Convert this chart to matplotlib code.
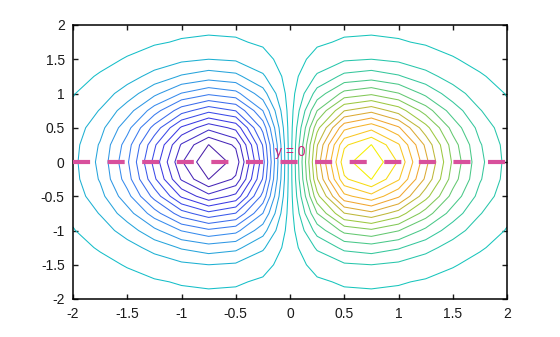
import numpy as np
import matplotlib
matplotlib.use('Agg')
import matplotlib.pyplot as plt
from matplotlib.colors import LinearSegmentedColormap

# grid the surface is sampled on (17 x 17, step 0.25)
x_grid = np.linspace(-2, 2, 17)
y_grid = np.linspace(-2, 2, 17)

# contour levels (symmetric about zero)
pos_levels = [0.015, 0.045, 0.074, 0.104, 0.134, 0.163, 0.193,
              0.223, 0.252, 0.282, 0.312, 0.342, 0.371, 0.401]
levels = sorted([-v for v in pos_levels] + pos_levels)

x_ticks = [-2, -1.5, -1, -0.5, 0, 0.5, 1, 1.5, 2]
y_ticks = [-2, -1.5, -1, -0.5, 0, 0.5, 1, 1.5, 2]
line_y = 0
line_label = 'y = 0'

# surface z = x * exp(-x^2 - y^2)
X, Y = np.meshgrid(x_grid, y_grid)
Z = X * np.exp(-X**2 - Y**2)

cmap = LinearSegmentedColormap.from_list('pal', [
    (0.00, '#4a1fa8'),
    (0.15, '#3a3ae6'),
    (0.32, '#3a86f0'),
    (0.50, '#10c4c4'),
    (0.62, '#40c890'),
    (0.74, '#9cc840'),
    (0.84, '#f0a030'),
    (0.92, '#f8c028'),
    (1.00, '#f4f000'),
])

plt.rcParams['font.family'] = ['Liberation Sans', 'DejaVu Sans']

fig = plt.figure(figsize=(5.6, 3.37), dpi=100)
ax = fig.add_axes([73/560, 38/337, 434/560, 274/337])

ax.contour(X, Y, Z, levels=levels, cmap=cmap, vmin=-0.401, vmax=0.401,
           linewidths=0.75)

ax.axhline(line_y, color='#d8509c', lw=3.0, dashes=(4.1, 4.2), zorder=5)
ax.text(0, 0.15, line_label, color='#cc2277', fontsize=10,
        ha='center', va='center', zorder=6)

ax.set_xlim(-2, 2)
ax.set_ylim(-2, 2)
ax.set_xticks(x_ticks)
ax.set_yticks(y_ticks)
ax.set_xticklabels([f'{t:g}' for t in x_ticks])
ax.set_yticklabels([f'{t:g}' for t in y_ticks])
ax.tick_params(direction='in', length=3.5, width=1, top=True, right=True,
               labelsize=10, pad=6, colors='#1a1a1a')
for s in ax.spines.values():
    s.set_linewidth(1.1)

fig.savefig('out.png', dpi=100)
